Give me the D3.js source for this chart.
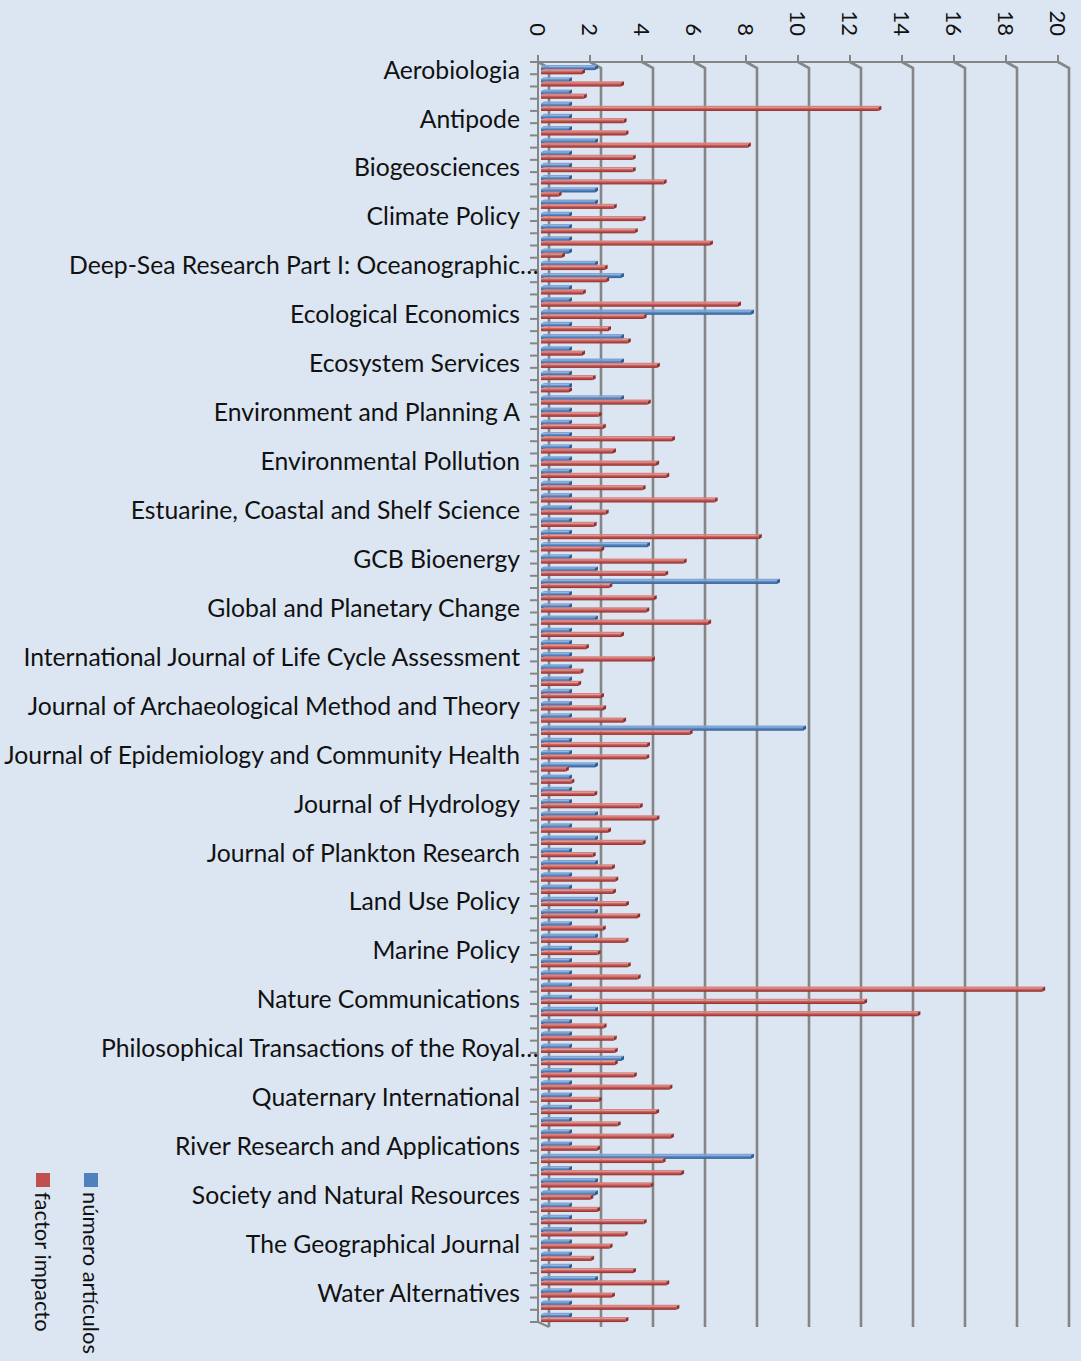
<!DOCTYPE html>
<html>
<head>
<meta charset="utf-8">
<script src="https://cdn.jsdelivr.net/npm/d3@7"></script>
<style>
  html, body { margin: 0; padding: 0; background: #dce6f2; }
  svg { display: block; }
  text { font-family: Lato, "Open Sans", sans-serif; fill: #111; }
</style>
</head>
<body>
<div id="chart"></div>
<script>
// category labels shown on the axis (every 4th journal)
const labels = [
  'Aerobiologia', 'Antipode', 'Biogeosciences', 'Climate Policy',
  'Deep-Sea Research Part I: Oceanographic…', 'Ecological Economics', 'Ecosystem Services',
  'Environment and Planning A', 'Environmental Pollution', 'Estuarine, Coastal and Shelf Science',
  'GCB Bioenergy', 'Global and Planetary Change', 'International Journal of Life Cycle Assessment',
  'Journal of Archaeological Method and Theory', 'Journal of Epidemiology and Community Health',
  'Journal of Hydrology', 'Journal of Plankton Research', 'Land Use Policy', 'Marine Policy',
  'Nature Communications', 'Philosophical Transactions of the Royal…', 'Quaternary International',
  'River Research and Applications', 'Society and Natural Resources', 'The Geographical Journal',
  'Water Alternatives'
];

// número artículos
const articulos = [
  2, 1, 1, 1, 1, 1, 2, 1, 1, 1, 2, 2, 1, 1, 1,
  1, 2, 3, 1, 1, 8, 1, 3, 1, 3, 1, 1, 3, 1, 1, 1,
  1, 1, 1, 1, 1, 1, 1, 1, 4, 1, 2, 9, 1, 1, 2,
  1, 1, 1, 1, 1, 1, 1, 1, 10, 1, 1, 2, 1, 1, 1, 2,
  1, 2, 1, 2, 1, 1, 2, 2, 1, 2, 1, 1, 1, 1, 1,
  2, 1, 1, 1, 3, 1, 1, 1, 1, 1, 1, 1, 8, 1, 2,
  2, 1, 1, 1, 1, 1, 1, 2, 1, 1, 1
];

// factor impacto
const factor = [
  1.5, 3.0, 1.57, 12.9, 3.1, 3.17, 7.88, 3.45, 3.45, 4.64, 0.6, 2.72, 3.83, 3.53, 6.42,
  0.73, 2.37, 2.43, 1.53, 7.5, 3.87, 2.5, 3.26, 1.5, 4.38, 1.91, 1.0, 4.03, 2.14, 2.3, 4.96,
  2.69, 4.35, 4.74, 3.83, 6.6, 2.41, 1.95, 8.3, 2.24, 5.41, 4.7, 2.55, 4.26, 3.97, 6.35,
  3.0, 1.65, 4.19, 1.44, 1.35, 2.23, 2.31, 3.08, 5.64, 4.0, 3.97, 0.88, 1.09, 1.97, 3.72, 4.36,
  2.5, 3.83, 1.91, 2.65, 2.78, 2.69, 3.19, 3.62, 2.3, 3.17, 2.1, 3.26, 3.64, 19.2, 12.35,
  14.4, 2.33, 2.72, 2.76, 2.76, 3.49, 4.86, 2.14, 4.35, 2.87, 4.92, 2.08, 4.6, 5.31, 4.13,
  1.82, 2.08, 3.87, 3.14, 2.56, 1.85, 3.46, 4.74, 2.65, 5.13, 3.17
];

const ticks = [0, 2, 4, 6, 8, 10, 12, 14, 16, 18, 20];

const series = [
  { name: 'número artículos', values: articulos, color: '#4f81bd', light: '#7fa5d6', dark: '#2f5d94' },
  { name: 'factor impacto', values: factor, color: '#c0504d', light: '#d98381', dark: '#8e302e' }
];

const width = 1081, height = 1361;
const depthX = 11, depthY = 6;
const gridColor = '#858585';

const svg = d3.select('#chart').append('svg')
  .attr('width', width)
  .attr('height', height);

svg.append('rect').attr('width', width).attr('height', height).attr('fill', '#dce6f2');

const x = d3.scaleLinear().domain([0, 20]).range([538, 1058]);
const y = d3.scaleBand().domain(d3.range(articulos.length)).range([62, 1322]).paddingInner(0).paddingOuter(0);

// gradients for the 3D-ish bars
const defs = svg.append('defs');
series.forEach((s, i) => {
  const g = defs.append('linearGradient').attr('id', 'grad' + i)
    .attr('x1', 0).attr('y1', 0).attr('x2', 0).attr('y2', 1);
  g.append('stop').attr('offset', '0%').attr('stop-color', s.light);
  g.append('stop').attr('offset', '45%').attr('stop-color', s.color);
  g.append('stop').attr('offset', '100%').attr('stop-color', s.dark);
});

// back wall gridlines (with the depth offset)
const grid = svg.append('g').attr('stroke', gridColor).attr('fill', 'none').attr('stroke-width', 2.6);
ticks.forEach(t => {
  grid.append('path')
    .attr('d', `M${x(t)},62 L${x(t) + depthX},${62 + depthY} L${x(t) + depthX},${1322 + depthY - 1}`);
});

// front axis lines
const axis = svg.append('g').attr('stroke', gridColor).attr('stroke-width', 2);
axis.append('line').attr('x1', 530).attr('x2', x(20)).attr('y1', 62).attr('y2', 62);
axis.append('line').attr('x1', x(0)).attr('x2', x(0)).attr('y1', 55).attr('y2', 1322);
axis.append('line').attr('x1', x(0)).attr('x2', x(0) + depthX).attr('y1', 1322).attr('y2', 1322 + depthY - 1);
ticks.forEach(t => {
  axis.append('line').attr('x1', x(t)).attr('x2', x(t)).attr('y1', 55).attr('y2', 62);
});
d3.range(articulos.length + 1).forEach(k => {
  const yy = 62 + k * y.step();
  axis.append('line').attr('x1', 530).attr('x2', x(0)).attr('y1', yy).attr('y2', yy);
});

// tick labels, rotated
svg.append('g').selectAll('text')
  .data(ticks)
  .enter().append('text')
  .attr('transform', d => `translate(${x(d)},36) rotate(90)`)
  .attr('text-anchor', 'end')
  .attr('dominant-baseline', 'central')
  .attr('font-size', 22)
  .text(d => d);

// bars
const barH = [3.6, 3.6];
const barOff = [-1.6, 2.6];
const capX = 3, capY = 1.6;
series.forEach((s, si) => {
  const g = svg.append('g');
  s.values.forEach((v, i) => {
    const c = y(i) + y.bandwidth() / 2;
    const top = c + barOff[si];
    const x0 = 541;
    const xe = x(v) + 5;
    // top face
    g.append('path')
      .attr('d', `M${x0},${top} L${x0 + capX},${top - capY} L${xe + capX},${top - capY} L${xe},${top} Z`)
      .attr('fill', s.light);
    // front face
    g.append('rect')
      .attr('x', x0).attr('y', top)
      .attr('width', Math.max(0, xe - x0)).attr('height', barH[si])
      .attr('fill', `url(#grad${si})`);
    // end cap
    g.append('path')
      .attr('d', `M${xe},${top} L${xe + capX},${top - capY} L${xe + capX},${top + barH[si] - capY} L${xe},${top + barH[si]} Z`)
      .attr('fill', s.dark);
  });
});

// category labels (every 4th)
const labelG = svg.append('g');
const labelText = labelG.selectAll('text')
  .data(labels)
  .enter().append('text')
  .attr('x', 520)
  .attr('y', (d, k) => y(k * 4) + y.bandwidth() / 2 + 1)
  .attr('text-anchor', 'end')
  .attr('dominant-baseline', 'central')
  .text(d => d.replace('…', ''));

// fit size so the longest label spans like the original
labelText.attr('font-size', 22);
const longest = labelText.filter(d => d.startsWith('Journal of Epidemiology')).node();
const fs = 22 * 516 / longest.getComputedTextLength();
labelText.attr('font-size', fs);

// ellipsis of the cut labels hangs over the axis
labelG.selectAll('text.ell')
  .data(labels.map((d, k) => ({ d, k })).filter(o => o.d.endsWith('…')))
  .enter().append('text')
  .attr('class', 'ell')
  .attr('x', 520)
  .attr('y', o => y(o.k * 4) + y.bandwidth() / 2 + 1)
  .attr('dominant-baseline', 'central')
  .attr('font-size', fs)
  .text('…');

// legend, rotated
const legend = svg.append('g');
const legendPos = [{ x: 84, name: series[0].name, color: series[0].color }, { x: 36, name: series[1].name, color: series[1].color }];
const legendText = [];
legendPos.forEach(p => {
  legend.append('rect').attr('x', p.x).attr('y', 1173).attr('width', 14).attr('height', 14).attr('fill', p.color);
  legendText.push(legend.append('text')
    .attr('transform', `translate(${p.x - 1},1192) rotate(90)`)
    .attr('font-size', 20)
    .text(p.name));
});
// "número artículos" runs about 164px in the original
const lfs = 20 * 162 / legendText[0].node().getComputedTextLength();
legendText.forEach(t => t.attr('font-size', lfs));
</script>
</body>
</html>
